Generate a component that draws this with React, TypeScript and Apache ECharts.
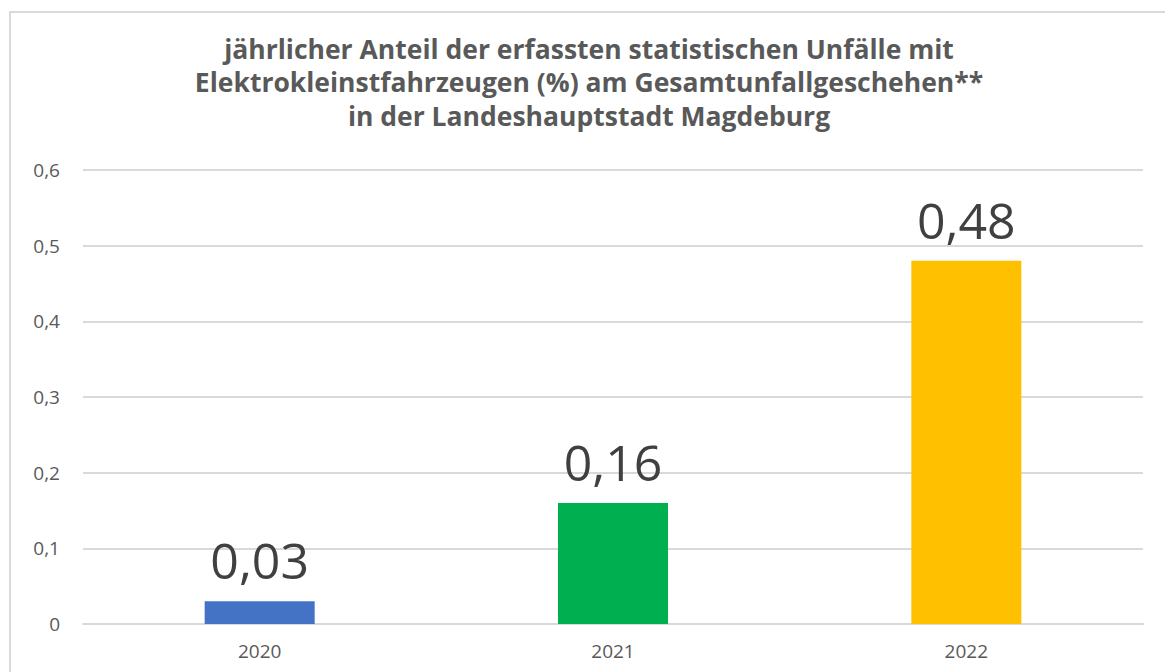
import React, { useEffect, useRef } from "react";
import * as echarts from "echarts";

const years = ["2020", "2021", "2022"];
const shares = [0.03, 0.16, 0.48];
const barColors = ["#4472C4", "#00B050", "#FFC000"];
const yTicks = [0, 0.1, 0.2, 0.3, 0.4, 0.5, 0.6];
const titleLines = [
  "jährlicher Anteil der erfassten statistischen Unfälle mit",
  "Elektrokleinstfahrzeugen (%) am Gesamtunfallgeschehen**",
  "in der Landeshauptstadt Magdeburg",
];

const fmt = (v: number) => String(v).replace(".", ",");

export default function App() {
  const ref = useRef<HTMLDivElement>(null);
  useEffect(() => {
    document.body.style.margin = "0";
    const chart = echarts.init(ref.current!, null, { renderer: "svg" });
    chart.setOption({
      animation: false,
      backgroundColor: "#ffffff",
      title: {
        text: titleLines.join("\n"),
        left: 584,
        top: 27,
        textAlign: "center",
        textStyle: {
          fontFamily: "Open Sans",
          fontWeight: "bold",
          fontSize: 26.5,
          lineHeight: 33.5,
          color: "#595959",
        },
      },
      graphic: [
        {
          type: "rect",
          shape: { x: 10, y: 12, width: 1200, height: 700 },
          style: { fill: "none", stroke: "#d9d9d9", lineWidth: 2 },
          silent: true,
        },
      ],
      grid: { left: 83, right: 22, top: 170, bottom: 48 },
      xAxis: {
        type: "category",
        data: years,
        axisLine: { show: true, lineStyle: { color: "#d9d9d9", width: 2 } },
        axisTick: { show: false },
        axisLabel: {
          fontFamily: "Open Sans",
          fontSize: 19,
          color: "#595959",
          margin: 17,
        },
      },
      yAxis: {
        type: "value",
        min: yTicks[0],
        max: yTicks[yTicks.length - 1],
        interval: 0.1,
        axisLine: { show: false },
        axisTick: { show: false },
        splitLine: { lineStyle: { color: "#d9d9d9", width: 2 } },
        axisLabel: {
          fontFamily: "Open Sans",
          fontSize: 19,
          color: "#595959",
          margin: 23,
          formatter: (v: number) => fmt(Math.round(v * 10) / 10),
        },
      },
      series: [
        {
          type: "bar",
          barWidth: 110,
          data: shares.map((v, i) => ({ value: v, itemStyle: { color: barColors[i] } })),
          label: {
            show: true,
            position: "top",
            distance: 16,
            fontFamily: "Open Sans",
            fontSize: 50,
            color: "#404040",
            formatter: (p: any) => fmt(p.value),
          },
        },
      ],
    });
    return () => chart.dispose();
  }, []);
  return <div ref={ref} style={{ width: 1165, height: 672 }} />;
}
